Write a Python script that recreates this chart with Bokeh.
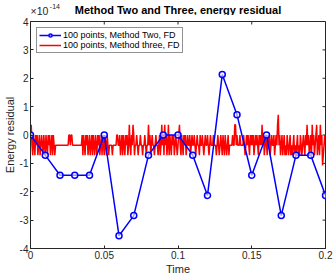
from bokeh.plotting import figure
from bokeh.layouts import column
from bokeh.models import (Range1d, FixedTicker, Label, Legend,
                          LegendItem, ColumnDataSource, CustomJSTickFormatter)
from bokeh.embed import file_html
from bokeh.resources import INLINE

# ---- data (energy residual in units of 1e-14) ----
time_two = [0.00, 0.01, 0.02, 0.03, 0.04, 0.05, 0.06, 0.07, 0.08, 0.09, 0.10,
            0.11, 0.12, 0.13, 0.14, 0.15, 0.16, 0.17, 0.18, 0.19, 0.20]
energy_two = [0.0, -0.71, -1.42, -1.42, -1.42, 0.0, -3.55, -2.84, -0.71, 0.0, 0.0,
              -0.71, -2.13, 2.13, 0.71, -1.42, 0.0, -2.84, -0.71, -0.71, -2.13]

energy_three = [
    0, 0.36, -0.36, -0.71, 0, -0.36, -0.71, 0, -0.36, 0, -0.71, -0.36, 0, -0.71, -0.36, 0, -0.36, -0.71, 0, -0.36,
    -0.71, 0, -0.36, -0.71, 0, -0.36, 0, -0.71, -0.36, 0, -0.71, 0, -0.36, -0.71, -0.36, -0.36, -0.36, -0.36, -0.36, -0.36,
    -0.36, -0.36, -0.36, -0.36, -0.36, -0.36, -0.36, -0.36, -0.36, -0.36, -0.36, -0.36, 0, 0, -0.36, 0, 0, -0.36, -0.36, -0.36,
    -0.36, -0.36, -0.36, -0.36, -0.36, -0.36, -0.36, -0.36, -0.36, -0.36, 0, -0.71, 0, -0.36, -0.71, 0, -0.36, 0, -0.71, -0.36,
    0, -0.71, -0.36, 0, -0.71, 0, -0.36, -0.71, 0, -0.36, -0.71, 0, -0.36, 0, -0.71, -0.36, 0, -0.71, 0, -0.36,
    -0.71, 0, -0.36, -0.71, 0, -0.36, -0.71, -0.36, -0.36, -0.36, -0.36, -0.71, -0.36, -0.36, -0.36, -0.36, -0.36, 0, 0, -0.36,
    -0.36, 0, -0.71, -0.36, 0, -0.71, 0, -0.36, -0.71, 0, -0.36, 0, -0.71, -0.36, 0.36, -0.36, -0.71, 0, -0.36, 0.36,
    0, -0.71, -0.36, -0.36, 0, -0.36, -0.71, -0.36, -0.36, 0, -0.36, -0.36, -0.71, -0.36, -0.36, 0, -0.36, -0.71, -0.36, -0.36,
    0.36, -0.36, 0, -0.71, -0.36, 0, -0.36, -0.36, -0.71, -0.36, 0, -0.36, -0.36, -0.71, -0.36, 0, -0.71, -0.36, 0.36, -0.36,
    0, -0.71, 0.36, -0.36, 0, -0.71, -0.36, 0.36, -0.71, 0, -0.36, -0.71, 0, -0.36, 0, -0.71, -0.36, 0, -0.36, -0.71,
    -0.36, 0, 0.36, -0.36, -0.71, 0, -0.36, -0.71, 0, -0.36, 0, -0.71, -0.36, 0, -0.36, -0.36, 0, -0.71, -0.36, 0,
    -0.36, -0.36, 0, -0.36, -0.71, -0.36, 0, -0.36, -0.36, -0.71, 0, -0.36, -0.36, 0, -0.36, -0.71, -0.36, 0, -0.36, -0.36,
    0, -0.36, -0.71, -0.36, 0, -0.36, -0.36, -0.36, 0, -0.36, -0.36, -0.36, -0.71, -0.36, 0, -0.36, -0.71, -0.36, 0, -0.36,
    -0.71, 0, -0.36, -0.71, 0, -0.36, -0.71, -0.36, 0, -0.71, -0.36, -0.36, -0.36, -0.36, 0, -0.36, -0.36, 0.36, 0.36, -0.36,
    0, -0.36, -0.36, -0.36, 0, -0.36, -0.36, -0.36, -0.36, 0, -0.36, -0.71, -0.36, 0, -0.36, 0, -0.36, -0.71, 0, -0.36,
    0, -0.36, 0, -0.71, -0.36, 0, -0.36, 0, -0.36, -0.71, 0, -0.36, 0, -0.36, 0.36, -0.36, 0, -0.71, -0.36, 0,
    -0.36, -0.71, 0, -0.36, 0, -0.71, -0.36, 0, -0.36, -0.36, 0, -0.71, -0.36, 0, -0.36, 0.36, 0.71, -0.36, 0, -0.71,
    -0.36, 0, -0.71, -0.36, 0, -0.71, -0.36, -0.71, 0, -0.36, -0.71, -0.36, 0, -0.71, -0.36, -0.71, -0.36, 0, -0.71, -0.36,
    -0.71, -0.36, 0, -0.71, -0.36, -0.71, 0, -0.36, -0.71, -0.36, 0, -0.36, -0.71, 0, -0.36, 0.36, -0.36, 0, -0.71, -0.36,
    0, -0.71, 0.36, -0.36, 0, -0.71, -0.36, 0, 0.36, -0.71, -0.36, 0, -0.71, 0.36, -0.36, 0, -1.07, -0.71, -0.36, 0,
    -0.36,
]
time_step_three = 0.0005
time_three = [i * time_step_three for i in range(len(energy_three))]

x_ticks = [0, 0.05, 0.1, 0.15, 0.2]
y_ticks = [-4, -3, -2, -1, 0, 1, 2, 3, 4]
label_two = "100 points, Method Two, FD"
label_three = "100 points, Method three, FD"
title_text = "Method Two and Three, energy residual"
exponent_base = "×10"
exponent_power = "-14"

FONT = "Liberation Sans"
AX = "#262626"
X0, X1, Y0, Y1 = 0, 0.2, -4, 4

W = 334
HEAD_H = 15
MAIN_H = 277 - HEAD_H
B_LEFT, B_RIGHT, B_TOP, B_BOTTOM = 27, 9, 6, 28
FRAME_W = W - B_LEFT - B_RIGHT
FRAME_H = MAIN_H - B_TOP - B_BOTTOM

# ---- header strip: title and the axis exponent ----
# the column aligns this strip's frame with the plot frame below, so its
# x range is given in page pixels spanning exactly that frame
head = figure(width=W, height=HEAD_H, x_range=Range1d(B_LEFT, W - B_RIGHT),
              y_range=Range1d(0, HEAD_H),
              x_axis_type=None, y_axis_type=None, output_backend="svg", toolbar_location=None,
              min_border_left=B_LEFT, min_border_right=B_RIGHT,
              min_border_top=0, min_border_bottom=0, outline_line_color=None)
head.grid.visible = False
head.title.visible = False
head.add_layout(Label(x=B_LEFT + FRAME_W / 2, y=5.5, text=title_text, text_font=FONT,
                      text_font_size="11px", text_font_style="bold", text_color="black",
                      text_align="center", text_baseline="alphabetic"))
head.add_layout(Label(x=B_LEFT, y=5, text=exponent_base, text_font=FONT,
                      text_font_size="10.5px", text_color=AX,
                      text_align="left", text_baseline="alphabetic"))
head.add_layout(Label(x=B_LEFT + 19.5, y=9, text=exponent_power, text_font=FONT,
                      text_font_size="7px", text_color=AX,
                      text_align="left", text_baseline="alphabetic"))

# ---- main plot ----
p = figure(width=W, height=MAIN_H, x_range=Range1d(X0, X1), y_range=Range1d(Y0, Y1),
           output_backend="svg", toolbar_location=None,
           min_border_left=B_LEFT, min_border_right=B_RIGHT,
           min_border_top=B_TOP, min_border_bottom=B_BOTTOM)
p.border_fill_alpha = 0
p.grid.visible = False
p.title.visible = False
p.outline_line_color = AX
p.background_fill_color = "white"

fmt = CustomJSTickFormatter(code="return String(tick);")

for ax, ticks in ((p.xaxis[0], x_ticks), (p.yaxis[0], y_ticks)):
    ax.ticker = FixedTicker(ticks=ticks)
    ax.formatter = fmt
    ax.axis_line_color = AX
    ax.major_tick_line_color = AX
    ax.major_tick_in = 3
    ax.major_tick_out = 0
    ax.minor_tick_line_color = None
    ax.major_label_text_font = FONT
    ax.major_label_text_color = AX
    ax.major_label_text_font_size = "10px"
    ax.major_label_standoff = 2
    ax.axis_label_text_font = FONT
    ax.axis_label_text_color = AX
    ax.axis_label_text_font_style = "normal"
    ax.axis_label_text_font_size = "11px"
    ax.axis_label_standoff = 1
p.xaxis.axis_label = "Time"
p.yaxis.axis_label = "Energy residual"

# inward ticks on the top and right edges of the box (MATLAB "box on")
tick_len_y = (Y1 - Y0) * 3 / FRAME_H
tick_len_x = (X1 - X0) * 3 / FRAME_W
p.segment(x0=x_ticks, x1=x_ticks, y0=[Y1] * len(x_ticks), y1=[Y1 - tick_len_y] * len(x_ticks),
          line_color=AX, line_width=1)
p.segment(x0=[X1] * len(y_ticks), x1=[X1 - tick_len_x] * len(y_ticks), y0=y_ticks, y1=y_ticks,
          line_color=AX, line_width=1)

src_three = ColumnDataSource(dict(t=time_three, e=energy_three))
src_two = ColumnDataSource(dict(t=time_two, e=energy_two))

r_red = p.line("t", "e", source=src_three, line_color="#ff0000", line_width=1.5)
r_blue = p.line("t", "e", source=src_two, line_color="#0000ff", line_width=1.5)
r_blue_pts = p.scatter("t", "e", source=src_two, marker="circle", size=6,
                       line_color="#0000ff", line_width=1.5, fill_color="white", fill_alpha=0.6)

legend = Legend(items=[LegendItem(label=label_two, renderers=[r_blue, r_blue_pts]),
                       LegendItem(label=label_three, renderers=[r_red])],
                location="top_left")
legend.margin = 6
legend.padding = 2
legend.spacing = -2
legend.label_height = 8
legend.glyph_height = 8
legend.glyph_width = 22
legend.label_standoff = 2
legend.label_text_font = FONT
legend.label_text_font_size = "9px"
legend.label_text_color = "black"
legend.label_text_line_height = 0.9
legend.border_line_color = AX
legend.border_line_width = 1
legend.background_fill_color = "white"
legend.background_fill_alpha = 1
p.add_layout(legend)

layout = column(head, p, spacing=0)
open("out.html", "w").write(file_html(layout, INLINE))
